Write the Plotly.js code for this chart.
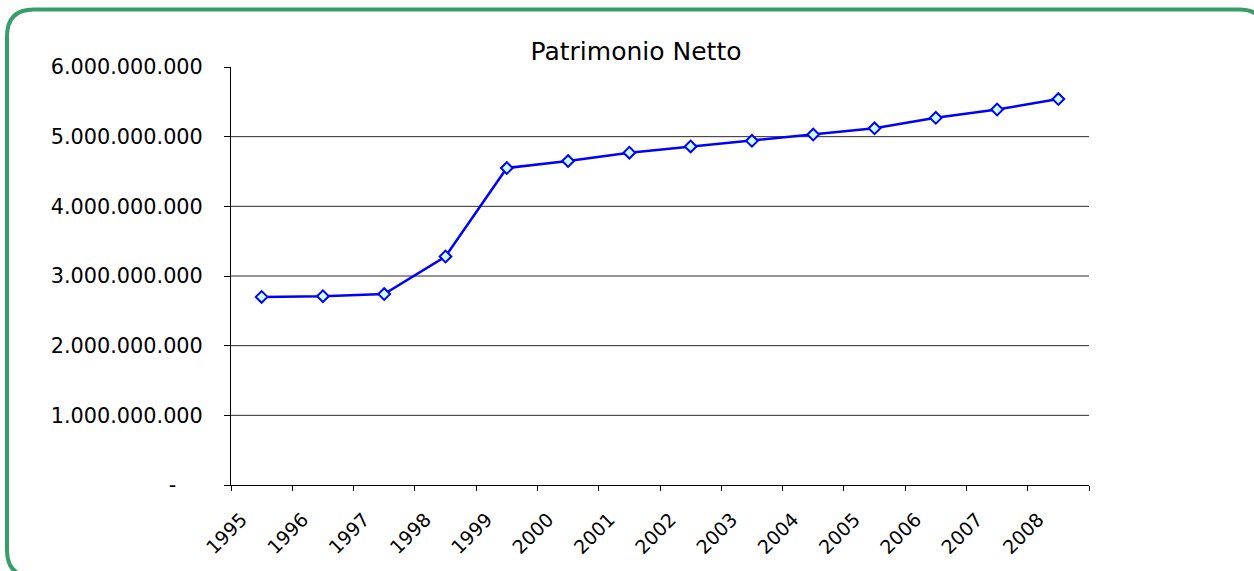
<!DOCTYPE html>
<html>
<head>
<meta charset="utf-8">
<script src="https://cdn.plot.ly/plotly-3.0.1.min.js"></script>
<style>
  html, body { margin: 0; padding: 0; background: #ffffff; }
  #chart { width: 1254px; height: 571px; }
</style>
</head>
<body>
<div id="chart"></div>
<script>
// Patrimonio netto per anno (euro)
const anni = ['1995', '1996', '1997', '1998', '1999', '2000', '2001',
              '2002', '2003', '2004', '2005', '2006', '2007', '2008'];
const patrimonioNetto = [2.70e9, 2.71e9, 2.74e9, 3.28e9, 4.55e9, 4.65e9, 4.77e9,
                         4.86e9, 4.94e9, 5.03e9, 5.12e9, 5.27e9, 5.39e9, 5.54e9];

// Asse Y: valori e etichette in formato contabile italiano
const yTickVals = [0, 1e9, 2e9, 3e9, 4e9, 5e9, 6e9];
const yTickText = ['-\u2007\u2007', '1.000.000.000', '2.000.000.000', '3.000.000.000',
                   '4.000.000.000', '5.000.000.000', '6.000.000.000'];
const titolo = 'Patrimonio Netto';

const W = 1254, H = 571;
const margin = { l: 231, r: 165, t: 67, b: 86 };
const plotW = W - margin.l - margin.r;
const plotH = H - margin.t - margin.b;

// pixel -> paper coordinates, for the decorative frame
const px = x => ((x - margin.l) / plotW).toFixed(5);
const py = y => ((H - margin.b - y) / plotH).toFixed(5);

function roundedRectPath(x0, y0, x1, y1, r) {
  return 'M' + px(x0 + r) + ',' + py(y0) +
    ' L' + px(x1 - r) + ',' + py(y0) +
    ' Q' + px(x1) + ',' + py(y0) + ' ' + px(x1) + ',' + py(y0 + r) +
    ' L' + px(x1) + ',' + py(y1 - r) +
    ' Q' + px(x1) + ',' + py(y1) + ' ' + px(x1 - r) + ',' + py(y1) +
    ' L' + px(x0 + r) + ',' + py(y1) +
    ' Q' + px(x0) + ',' + py(y1) + ' ' + px(x0) + ',' + py(y1 - r) +
    ' L' + px(x0) + ',' + py(y0 + r) +
    ' Q' + px(x0) + ',' + py(y0) + ' ' + px(x0 + r) + ',' + py(y0) + ' Z';
}

// horizontal grid lines at the inner ticks only (no line at the top value)
const gridShapes = yTickVals.slice(1, -1).map(v => ({
  type: 'line', xref: 'paper', yref: 'y',
  x0: 0, x1: 1, y0: v, y1: v,
  line: { color: '#2a2a2a', width: 1 },
  layer: 'below'
}));

const frame = {
  type: 'path', xref: 'paper', yref: 'paper',
  path: roundedRectPath(7, 9.5, 1266, 577, 27),
  line: { color: '#389e69', width: 4 },
  fillcolor: 'rgba(0,0,0,0)',
  layer: 'above'
};

const trace = {
  type: 'scatter',
  mode: 'lines+markers',
  x: anni,
  y: patrimonioNetto,
  line: { color: '#0000ff', width: 2.5 },
  marker: {
    symbol: 'diamond', size: 9, color: '#ccffff',
    line: { color: '#0000ff', width: 2 }
  },
  hoverinfo: 'x+y'
};

const layout = {
  width: W, height: H,
  margin: margin,
  paper_bgcolor: '#ffffff',
  plot_bgcolor: '#ffffff',
  showlegend: false,
  font: { family: 'DejaVu Sans, sans-serif', color: '#000000' },
  title: {
    text: titolo,
    font: { family: 'DejaVu Sans, sans-serif', size: 25, color: '#000000' },
    xref: 'paper', x: (636 - margin.l) / plotW, xanchor: 'center',
    yref: 'container', y: 1 - 51 / H, yanchor: 'middle'
  },
  xaxis: {
    type: 'category',
    range: [-0.5, anni.length - 0.5],
    tickson: 'boundaries',
    ticks: 'outside', ticklen: 5, tickcolor: '#000000', tickwidth: 1,
    showline: true, linecolor: '#000000', linewidth: 1,
    showgrid: false, zeroline: false,
    tickangle: -45,
    tickfont: { family: 'DejaVu Sans, sans-serif', size: 19, color: '#000000' },
    ticklabelshift: -20,
    ticklabelstandoff: 15,
    fixedrange: true
  },
  yaxis: {
    range: [0, 6e9],
    tickmode: 'array', tickvals: yTickVals, ticktext: yTickText,
    ticks: 'outside', ticklen: 6, tickcolor: '#000000', tickwidth: 1,
    showline: true, linecolor: '#000000', linewidth: 1,
    showgrid: false, zeroline: false,
    tickfont: { family: 'DejaVu Sans, sans-serif', size: 20.8, color: '#000000' },
    ticklabelstandoff: 17,
    fixedrange: true
  },
  shapes: gridShapes.concat([frame])
};

Plotly.newPlot('chart', [trace], layout, { displayModeBar: false, staticPlot: true });
</script>
</body>
</html>
